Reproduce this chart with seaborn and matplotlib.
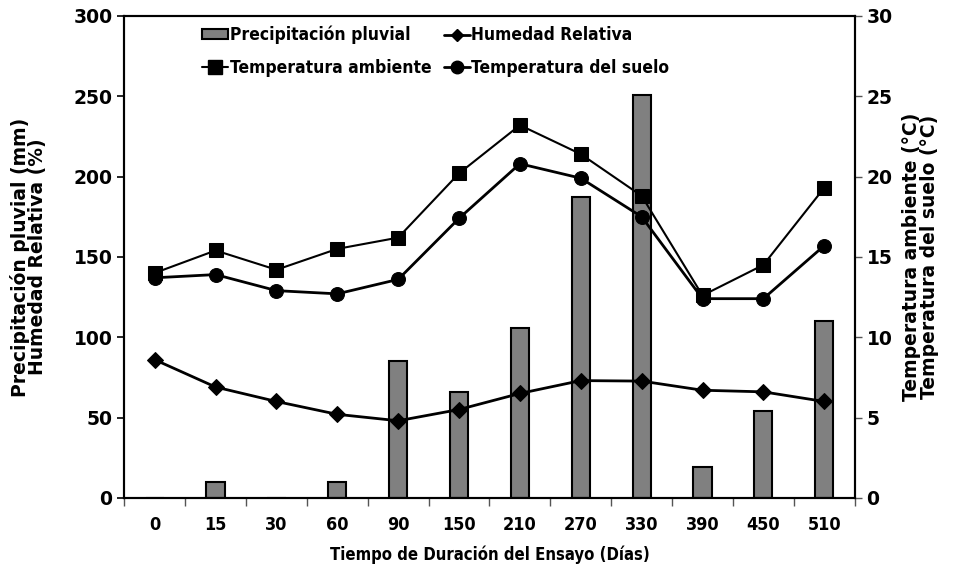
import matplotlib
matplotlib.use("Agg")
import matplotlib.pyplot as plt
import seaborn as sns
import pandas as pd
from matplotlib.lines import Line2D
from matplotlib.patches import Patch
from matplotlib import font_manager

dias = ["0", "15", "30", "60", "90", "150", "210", "270", "330", "390", "450", "510"]
precipitacion = [0, 10, 0, 10, 85, 66, 106, 187, 251, 19, 54, 110]
humedad = [86, 69, 60, 52, 48, 55, 65, 73, 72.7, 67, 66, 60]
temp_ambiente = [14.0, 15.4, 14.2, 15.5, 16.2, 20.2, 23.2, 21.4, 18.8, 12.6, 14.5, 19.3]
temp_suelo = [13.7, 13.9, 12.9, 12.7, 13.6, 17.4, 20.8, 19.9, 17.5, 12.4, 12.4, 15.7]

df = pd.DataFrame({
    "pos": range(len(dias)),
    "Dias": dias,
    "Precipitacion": precipitacion,
    "Humedad": humedad,
    "TempAmb": temp_ambiente,
    "TempSuelo": temp_suelo,
})

sns.set_style("ticks")
plt.rcParams["font.family"] = ["DejaVu Sans"]
plt.rcParams["font.weight"] = "bold"
for k in ["text.color", "axes.labelcolor", "xtick.color", "ytick.color"]:
    plt.rcParams[k] = "black"

# fuente estrecha para eje x y leyenda
cond = [f.fname for f in font_manager.fontManager.ttflist
        if f.name == "DejaVu Sans" and "Condensed" in f.fname
        and "Bold" in f.fname and "Oblique" not in f.fname]
if cond:
    fp_narrow = font_manager.FontProperties(fname=cond[0], size=12)
else:
    fp_narrow = font_manager.FontProperties(family="Liberation Sans", weight="bold", size=11.5)
fp_leyenda = fp_narrow.copy()
fp_leyenda.set_size(fp_narrow.get_size() + 0.5)

fig = plt.figure(figsize=(9.56, 5.69), dpi=100)
ax = fig.add_axes([0.130, 0.125, 0.764, 0.847])

sns.barplot(data=df, x="pos", y="Precipitacion", color="#808080", width=0.3,
            edgecolor="black", linewidth=1.5, saturation=1, ax=ax)
sns.lineplot(data=df, x="pos", y="Humedad", color="black", linewidth=2,
             marker="D", markersize=8, markeredgecolor="black", ax=ax)

ax2 = ax.twinx()
sns.lineplot(data=df, x="pos", y="TempAmb", color="black", linewidth=1.5,
             marker="s", markersize=10, markeredgecolor="black", ax=ax2)
sns.lineplot(data=df, x="pos", y="TempSuelo", color="black", linewidth=2,
             marker="o", markersize=10, markeredgecolor="black", ax=ax2)

ax.set_xlim(-0.5, len(dias) - 0.5)
ax.set_ylim(0, 300)
ax2.set_ylim(0, 30)
ax.set_yticks(range(0, 301, 50))
ax2.set_yticks(range(0, 31, 5))
ax.set_xticks(range(len(dias)))
ax.set_xticklabels(dias)
for lab in ax.get_xticklabels():
    lab.set_fontproperties(fp_narrow)
    lab.set_fontsize(13)
ax.set_xticks([i - 0.5 for i in range(len(dias) + 1)], minor=True)
ax.tick_params(axis="x", which="major", length=0, pad=13)
ax.tick_params(axis="x", which="minor", length=6, width=1, color="#555555")
ax.tick_params(axis="y", labelsize=13.5, length=5, width=1.2)
ax2.tick_params(axis="y", labelsize=13.5, length=5, width=1, color="#555555")
for lab in ax.get_yticklabels() + ax2.get_yticklabels():
    lab.set_fontweight("bold")

for a in (ax, ax2):
    for s in a.spines.values():
        s.set_linewidth(1.5)
        s.set_color("black")

ax.set_xlabel("Tiempo de Duración del Ensayo (Días)", fontproperties=fp_narrow, labelpad=8)
ax.set_ylabel("Precipitación pluvial (mm)\nHumedad Relativa (%)", fontsize=13.5,
              fontweight="bold", linespacing=0.9, va="center")
ax.yaxis.set_label_coords(-0.131, 0.5)
ax2.set_ylabel("Temperatura ambiente (°C)\nTemperatura del suelo (°C)", fontsize=13.5,
               fontweight="bold", rotation=90, linespacing=0.9, va="center")
ax2.yaxis.set_label_coords(1.09, 0.5)

handles = [
    Patch(facecolor="#808080", edgecolor="black", linewidth=1.5),
    Line2D([], [], color="black", lw=2, marker="D", markersize=6),
    Line2D([], [], color="black", lw=1.5, marker="s", markersize=10),
    Line2D([], [], color="black", lw=2, marker="o", markersize=9),
]
labels = ["Precipitación pluvial", "Humedad Relativa", "Temperatura ambiente",
          "Temperatura del suelo"]
order = [0, 2, 1, 3]
ax2.legend([handles[i] for i in order], [labels[i] for i in order], ncol=2,
           loc="upper left", bbox_to_anchor=(0.085, 1.012), frameon=False,
           prop=fp_leyenda, handlelength=1.5, handleheight=0.5, handletextpad=0.1,
           columnspacing=0.7, labelspacing=0.85)

fig.savefig("out.png", dpi=100)
